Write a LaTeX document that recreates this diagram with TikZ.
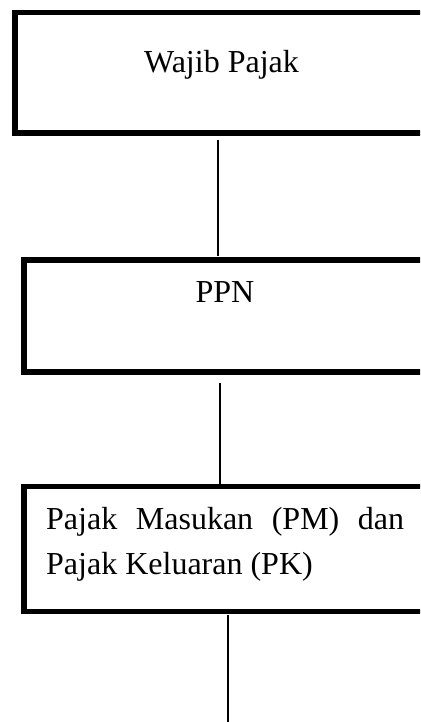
\documentclass[tikz,border=0pt]{standalone}
\usepackage{fontspec}
\setmainfont{Liberation Serif}
\usetikzlibrary{positioning}
\tikzset{
  kotak/.style={draw, line width=5.5pt, outer sep=0pt, inner sep=0pt},
  garis/.style={line width=1.6pt},
  teks/.style={font=\fontsize{32}{45}\selectfont, inner sep=0pt},
}
\begin{document}
\begin{tikzpicture}[x=1pt,y=-1pt]
\useasboundingbox (0,0) rectangle (420,722);
\clip (0,0) rectangle (420,722);
% kotak
\node[kotak, minimum width=412.5pt, minimum height=120.5pt] (wp) at (221,73) {};
\node[kotak, minimum width=403pt, minimum height=112pt] (ppn) at (225.5,316) {};
\node[kotak, minimum width=403pt, minimum height=125pt] (pm) at (225.5,549) {};
% teks
\node[teks, anchor=base] (wptext) at (221.5,73) {Wajib Pajak};
\node[teks, anchor=base] (ppntext) at (225,302) {PPN};
\node[teks, anchor=base west, text width=358pt, align=justify] (pmtext) at (46,529)
  {\hyphenpenalty=10000 Pajak Masukan (PM) dan Pajak Keluaran (PK)};
% garis
\coordinate (x1) at (218,0);
\coordinate (x2) at (220,0);
\coordinate (ujung) at (228,722);
\draw[garis, shorten <=6.75pt, shorten >=4pt] (wp.south -| x1) -- (ppn.north -| x1);
\draw[garis, shorten <=11pt, shorten >=2.5pt] (ppn.south -| x2) -- (pm.north -| x2);
\draw[garis, line width=1.3pt, shorten <=3.5pt] (pm.south -| ujung) -- (ujung);
\end{tikzpicture}
\end{document}
